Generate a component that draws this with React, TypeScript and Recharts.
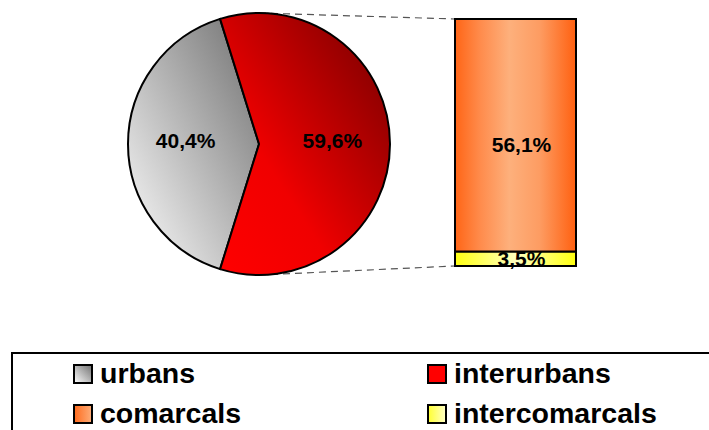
import { PieChart, Pie, Cell, BarChart, Bar, XAxis, YAxis, LabelList } from "recharts";

const pieCategories = ["urbans", "interurbans"];
const pieValues = [40.4, 59.6];
const barCategories = ["intercomarcals", "comarcals"];
const barValues = [3.5, 56.1];

const pieFills = ["url(#gUrbans)", "url(#gInter)"];
const barFills = ["url(#gIntercom)", "url(#gComarcals)"];

const FONT = "'Liberation Sans', Arial, sans-serif";

// layout
const PIE_CX = 259;
const PIE_CY = 144;
const PIE_R = 131;
const BAR_LEFT = 415;
const BAR_W = 201;
const BAR_H = 290;
const BAR_TOP = 19;
const BAR_BOTTOM = 24;
const BAR_SIZE = 121;

const pieData = pieCategories.map((name, i) => ({ name, value: pieValues[i] }));
const barRow: Record<string, number | string> = { name: "" };
barCategories.forEach((c, i) => (barRow[c] = barValues[i]));
const barData = [barRow];

const fmt = (v: number) => v.toFixed(1).replace(".", ",") + "%";

const urbansShare = pieValues[0] / (pieValues[0] + pieValues[1]);
const startAngle = 180 - (urbansShare * 360) / 2;

const RAD = Math.PI / 180;
const renderPieLabel = (props: any) => {
  const { cx, cy, midAngle, outerRadius, value } = props;
  const r = outerRadius * 0.56;
  const x = cx + r * Math.cos(-midAngle * RAD);
  const y = cy + r * Math.sin(-midAngle * RAD) - 4;
  return (
    <text x={x} y={y} textAnchor="middle" dominantBaseline="central" fill="#000" fontFamily={FONT} fontWeight="bold" fontSize={21}>
      {fmt(value)}
    </text>
  );
};

const legendItems = [
  { label: "urbans", fill: "url(#lgUrbans)", x: 73, y: 364 },
  { label: "interurbans", fill: "#ff0000", x: 427, y: 364 },
  { label: "comarcals", fill: "url(#lgComarcals)", x: 73, y: 404 },
  { label: "intercomarcals", fill: "url(#lgIntercom)", x: 427, y: 404 },
];

export default function App() {
  const barX = BAR_LEFT + (BAR_W - BAR_SIZE) / 2;
  return (
    <div style={{ position: "absolute", left: 0, top: 0, width: 709, height: 430, overflow: "hidden", background: "#fff", fontFamily: FONT }}>
      {/* shared gradients + connector lines */}
      <svg width={709} height={430} style={{ position: "absolute", left: 0, top: 0 }}>
        <defs>
          <linearGradient id="gUrbans" x1="0" y1="1" x2="1" y2="0">
            <stop offset="0%" stopColor="#ffffff" />
            <stop offset="100%" stopColor="#6e6e6e" />
          </linearGradient>
          <linearGradient id="gInter" x1="0" y1="1" x2="1" y2="0">
            <stop offset="0%" stopColor="#ff0000" />
            <stop offset="35%" stopColor="#f00000" />
            <stop offset="100%" stopColor="#700000" />
          </linearGradient>
          <linearGradient id="gComarcals" x1="0" y1="0" x2="1" y2="0">
            <stop offset="0%" stopColor="#ff6516" />
            <stop offset="20%" stopColor="#ff8a4a" />
            <stop offset="45%" stopColor="#fdb07c" />
            <stop offset="70%" stopColor="#fd9c62" />
            <stop offset="100%" stopColor="#ff6010" />
          </linearGradient>
          <linearGradient id="gIntercom" x1="0" y1="0" x2="1" y2="0">
            <stop offset="0%" stopColor="#ffff10" />
            <stop offset="50%" stopColor="#ffffc0" />
            <stop offset="100%" stopColor="#ffff10" />
          </linearGradient>
          <linearGradient id="lgUrbans" x1="0" y1="1" x2="1" y2="0">
            <stop offset="0%" stopColor="#ffffff" />
            <stop offset="100%" stopColor="#707070" />
          </linearGradient>
          <linearGradient id="lgComarcals" x1="0" y1="0" x2="1" y2="0">
            <stop offset="0%" stopColor="#ff6a1c" />
            <stop offset="100%" stopColor="#fdae7a" />
          </linearGradient>
          <linearGradient id="lgIntercom" x1="0" y1="0" x2="1" y2="0">
            <stop offset="0%" stopColor="#ffff30" />
            <stop offset="100%" stopColor="#ffffc8" />
          </linearGradient>
        </defs>
        <line x1={PIE_CX} y1={PIE_CY - PIE_R} x2={barX} y2={BAR_TOP} stroke="#555" strokeWidth={1.2} strokeDasharray="7 5" />
        <line x1={PIE_CX} y1={PIE_CY + PIE_R} x2={barX} y2={BAR_H - BAR_BOTTOM} stroke="#555" strokeWidth={1.2} strokeDasharray="7 5" />
      </svg>

      <div style={{ position: "absolute", left: 0, top: 0 }}>
        <PieChart width={400} height={290} margin={{ top: 0, right: 0, bottom: 0, left: 0 }}>
          <Pie
            data={pieData}
            dataKey="value"
            nameKey="name"
            cx={PIE_CX}
            cy={PIE_CY}
            outerRadius={PIE_R}
            startAngle={startAngle}
            endAngle={startAngle + 360}
            stroke="#000"
            strokeWidth={2}
            label={renderPieLabel}
            labelLine={false}
            isAnimationActive={false}
          >
            {pieData.map((d, i) => (
              <Cell key={d.name} fill={pieFills[i]} />
            ))}
          </Pie>
        </PieChart>
      </div>

      <div style={{ position: "absolute", left: BAR_LEFT, top: 0 }}>
        <BarChart width={BAR_W} height={BAR_H} data={barData} margin={{ top: BAR_TOP, right: 0, bottom: BAR_BOTTOM, left: 0 }} barSize={BAR_SIZE}>
          <XAxis dataKey="name" hide />
          <YAxis hide domain={[0, barValues[0] + barValues[1]]} />
          {barCategories.map((c, i) => (
            <Bar key={c} dataKey={c} stackId="s" fill={barFills[i]} stroke="#000" strokeWidth={2} isAnimationActive={false}>
              <LabelList
                dataKey={c}
                position="center"
                formatter={(v: any) => fmt(Number(v))}
                fill="#000"
                fontFamily={FONT}
                fontWeight="bold"
                fontSize={21}
                offset={0}
                dx={6}
                dy={i === 1 ? 9 : 0}
              />
            </Bar>
          ))}
        </BarChart>
      </div>

      {/* legend */}
      <div style={{ position: "absolute", left: 11, top: 352, width: 740, height: 100, border: "2px solid #000", boxSizing: "border-box" }} />
      {legendItems.map((it) => (
        <div key={it.label}>
          <svg width={20} height={20} style={{ position: "absolute", left: it.x, top: it.y }}>
            <rect x={1} y={1} width={18} height={18} fill={it.fill} stroke="#000" strokeWidth={2} />
          </svg>
          <span
            style={{
              position: "absolute",
              left: it.x + 27,
              top: it.y - 5,
              fontSize: 28.5,
              lineHeight: "28px",
              fontWeight: "bold",
              color: "#000",
              whiteSpace: "nowrap",
            }}
          >
            {it.label}
          </span>
        </div>
      ))}
    </div>
  );
}
